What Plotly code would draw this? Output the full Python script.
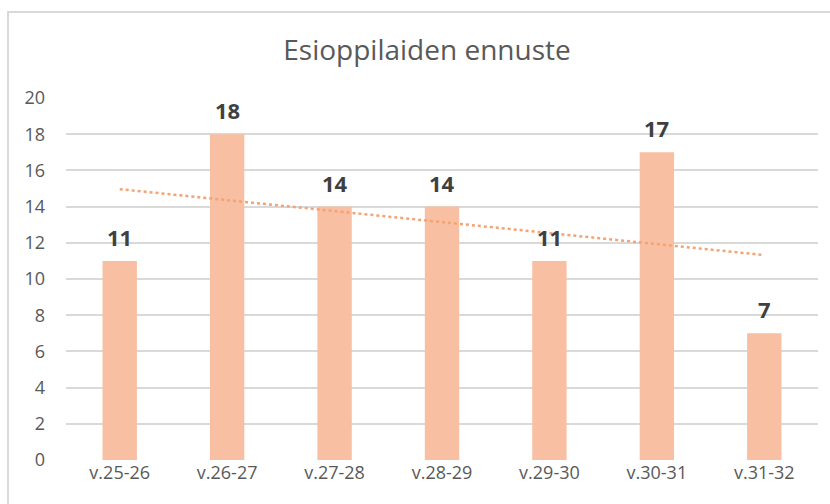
import numpy as np
import plotly.graph_objects as go

categories = ["v.25-26", "v.26-27", "v.27-28", "v.28-29", "v.29-30", "v.30-31", "v.31-32"]
values = [11, 18, 14, 14, 11, 17, 7]
y_ticks = [0, 2, 4, 6, 8, 10, 12, 14, 16, 18, 20]

# linear trendline (least squares over category index)
idx = np.arange(1, len(values) + 1)
slope, intercept = np.polyfit(idx, values, 1)
trend = slope * idx + intercept

FONT = "Open Sans, Liberation Sans, sans-serif"

fig = go.Figure()
fig.add_trace(go.Bar(
    x=categories, y=values,
    marker=dict(color="#F8BFA2", line=dict(width=0)),
    width=0.32,
    showlegend=False,
))
fig.add_trace(go.Scatter(
    x=categories, y=trend, mode="lines",
    line=dict(color="#F4A373", width=2.5, dash="dot"),
    showlegend=False, hoverinfo="skip",
))

for c, v in zip(categories, values):
    fig.add_annotation(x=c, y=v, text=str(v), showarrow=False, yshift=24,
                       yanchor="middle",
                       font=dict(family=FONT, size=22, color="#404040", weight="bold"))

L, R, T, B = 66, 12, 98, 44
W, H = 830, 504
pw, ph = W - L - R, H - T - B

fig.update_layout(
    width=W, height=H,
    margin=dict(l=L, r=R, t=T, b=B, pad=0),
    paper_bgcolor="white", plot_bgcolor="white",
    title=dict(text="Esioppilaiden ennuste", x=427 / W, xanchor="center",
               y=1 - 50 / H, yanchor="middle",
               font=dict(family=FONT, size=28, color="#595959")),
    font=dict(family=FONT, color="#595959", size=18),
    xaxis=dict(showgrid=False, showline=False, ticks="", zeroline=False,
               tickfont=dict(size=18, color="#595959")),
    yaxis=dict(range=[0, 20], tickvals=y_ticks, showgrid=True, gridcolor="#D9D9D9", gridwidth=1.5,
               zeroline=False, showline=False, ticks="", ticklabelstandoff=20,
               tickfont=dict(size=18, color="#595959")),
    shapes=[dict(type="rect", xref="paper", yref="paper",
                 x0=(8 - L) / pw, x1=(W + 20 - L) / pw,
                 y0=-(H + 20 - (T + ph)) / ph, y1=(T + ph - 12) / ph,
                 line=dict(color="#D9D9D9", width=2), fillcolor="rgba(0,0,0,0)", layer="below")],
)

fig.write_html("out.html", config={"displayModeBar": False},
               post_script="document.body.style.margin='0';document.body.style.overflow='hidden';")
